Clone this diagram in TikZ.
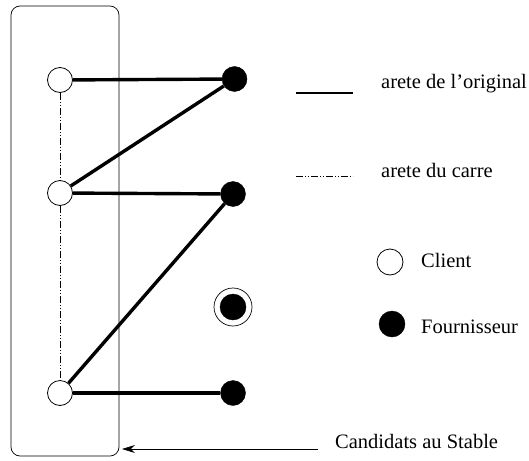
\documentclass[tikz,border=0pt]{standalone}
\usepackage{fontspec}
\setmainfont{Liberation Serif}
\usetikzlibrary{arrows.meta}
\tikzset{
    client/.style={draw, circle, fill=white, inner sep=0pt, minimum size=25pt, line width=0.8pt},
    fournisseur/.style={draw, circle, fill=black, inner sep=0pt, minimum size=25pt},
    original/.style={line width=3.4pt},
    carre/.style={line width=0.6pt, dash pattern=on 7pt off 2pt on 1pt off 2pt on 1pt off 2pt},
    legende/.style={anchor=base west, font=\fontsize{20.5}{22}\selectfont, inner sep=0pt}
}
\begin{document}
\begin{tikzpicture}[x=1pt, y=-1pt]
    \useasboundingbox (0,0) rectangle (529,460);
    % les candidats au stable
    \node [draw, rounded corners=9pt, line width=0.7pt, minimum width=108pt, minimum height=450pt] (candidats) at (65,231) {};
    \node [client] (c1) at (60,80) {};
    \node [client] (c2) at (60,193) {};
    \node [client] (c3) at (60,393) {};
    \node [fournisseur] (f1) at (234.5,79) {};
    \node [fournisseur] (f2) at (233,194) {};
    \node [fournisseur] (f3) at (233,393) {};
    \node [fournisseur, minimum size=26pt] (f4) at (233,307) {};
    \draw [line width=0.7pt] (f4) circle (19pt);
    % aretes du carre
    \draw [carre] (c1) -- (c2);
    \draw [carre] (c2) -- (c3);
    % aretes de l'original
    \draw [original] (c1) -- (f1);
    \draw [original] (c2) -- (f1);
    \draw [original] (c2) -- (f2);
    \draw [original] (c3) -- (f2);
    \draw [original] (c3) -- (f3);
    % legende
    \coordinate (l1) at (296,93);
    \coordinate (l2) at (296,176);
    \draw [original, line width=2pt] (l1) -- ++(57,0);
    \draw [carre] (l2) -- ++(57,0);
    \node [legende] (t1) at (381,88) {arete de l’original};
    \node [legende] (t2) at (381,177) {arete du carre};
    \node [client, minimum size=26pt] (lc) at (390,262) {};
    \node [legende] (t3) at (421,267) {Client};
    \node [fournisseur, minimum size=26pt] (lf) at (392,324) {};
    \node [legende] (t4) at (421,333) {Fournisseur};
    \node [legende] (t5) at (335,448) {Candidats au Stable};
    \coordinate (depart) at (318,449);
    \coordinate (pointe) at (122,449);
    \draw [line width=0.7pt, -{Stealth[length=13pt, width=8pt]}] (depart) -- (pointe);
\end{tikzpicture}
\end{document}
